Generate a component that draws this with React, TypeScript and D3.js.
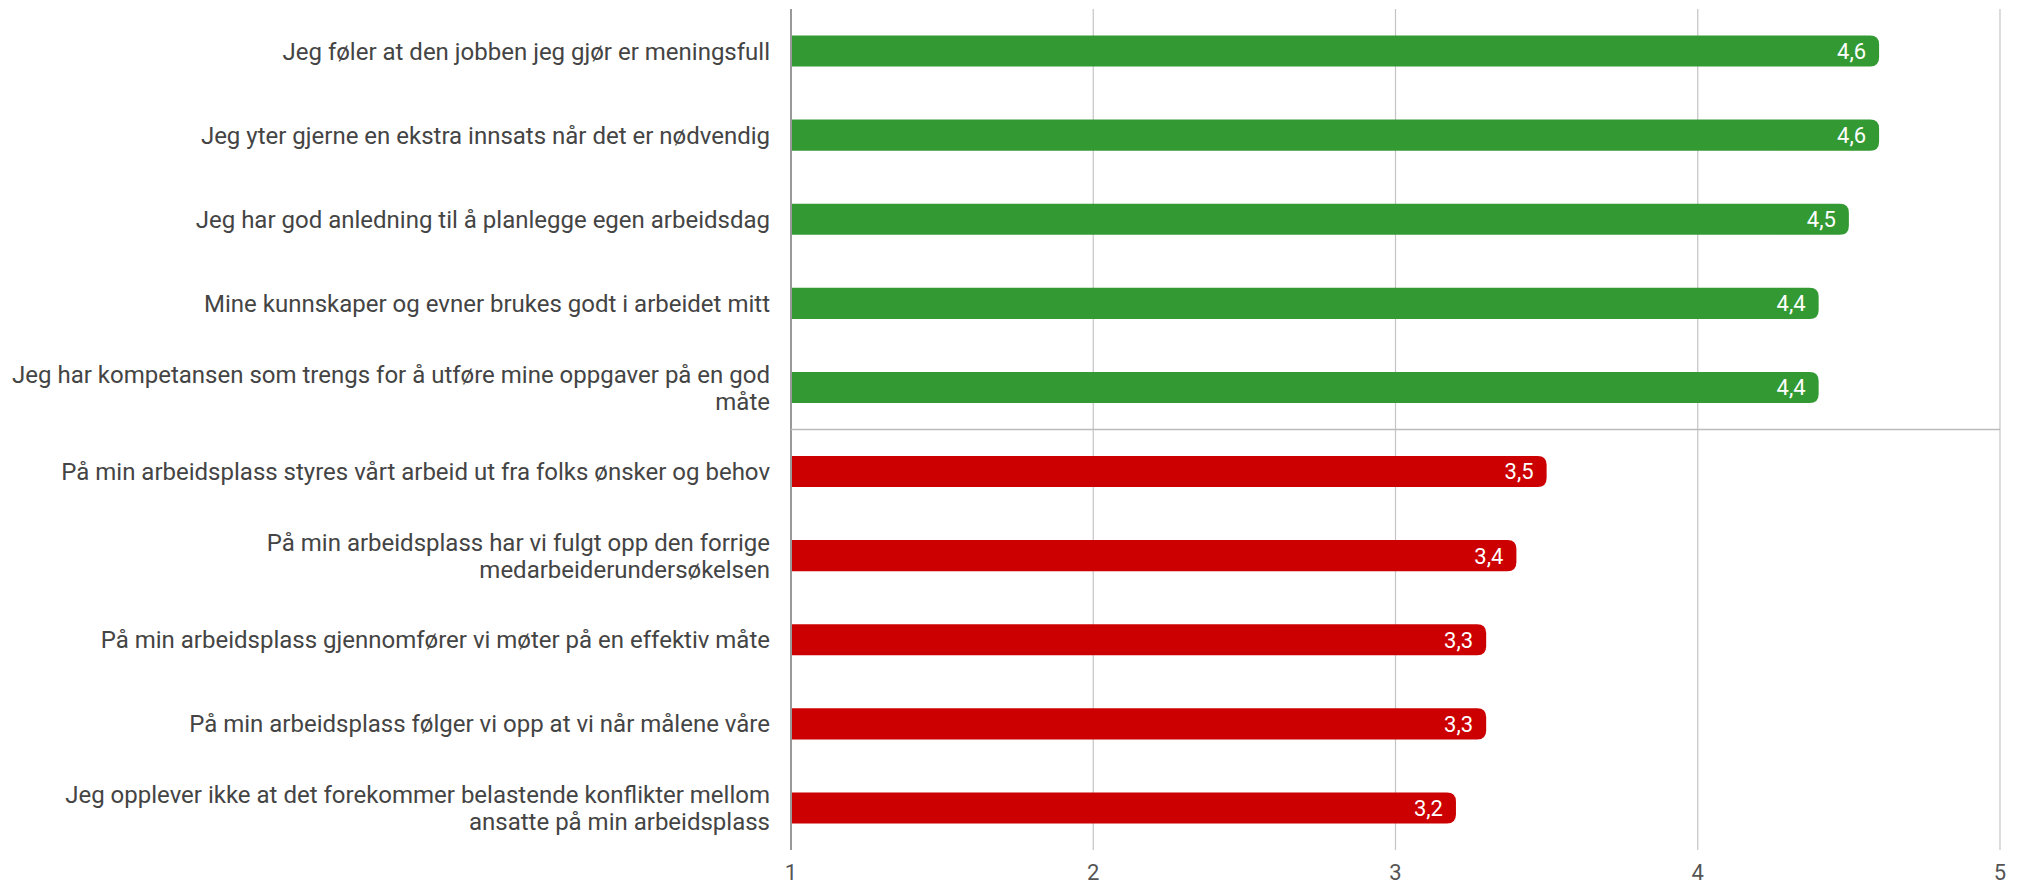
import * as d3 from 'd3'

// ─── Data ─────────────────────────────────────────────────────────────────────

const LABELS: string[][] = [
  ['Jeg føler at den jobben jeg gjør er meningsfull'],
  ['Jeg yter gjerne en ekstra innsats når det er nødvendig'],
  ['Jeg har god anledning til å planlegge egen arbeidsdag'],
  ['Mine kunnskaper og evner brukes godt i arbeidet mitt'],
  ['Jeg har kompetansen som trengs for å utføre mine oppgaver på en god', 'måte'],
  ['På min arbeidsplass styres vårt arbeid ut fra folks ønsker og behov'],
  ['På min arbeidsplass har vi fulgt opp den forrige', 'medarbeiderundersøkelsen'],
  ['På min arbeidsplass gjennomfører vi møter på en effektiv måte'],
  ['På min arbeidsplass følger vi opp at vi når målene våre'],
  ['Jeg opplever ikke at det forekommer belastende konflikter mellom', 'ansatte på min arbeidsplass'],
]
const VALUES = [4.6, 4.6, 4.5, 4.4, 4.4, 3.5, 3.4, 3.3, 3.3, 3.2]
const GROUP = ['top', 'top', 'top', 'top', 'top', 'bottom', 'bottom', 'bottom', 'bottom', 'bottom']
const X_TICKS = [1, 2, 3, 4, 5]

// ─── Constants ────────────────────────────────────────────────────────────────

const W = 2020
const H = 885
const MARGIN = { top: 9, right: 20, bottom: 35, left: 791 }
const COLORS: Record<string, string> = { top: '#339933', bottom: '#cc0000' }
const FONT = 'Roboto, "Noto Sans", sans-serif'

function roundedRight(x0: number, x1: number, y: number, h: number, r: number) {
  const rr = Math.min(r, (x1 - x0) / 2, h / 2)
  return `M${x0},${y}H${x1 - rr}Q${x1},${y} ${x1},${y + rr}V${y + h - rr}Q${x1},${y + h} ${x1 - rr},${y + h}H${x0}Z`
}

export default function App() {
  const innerW = W - MARGIN.left - MARGIN.right
  const innerH = H - MARGIN.top - MARGIN.bottom

  const x = d3.scaleLinear().domain([1, 5]).range([0, innerW])
  const y = d3.scaleBand<number>()
    .domain(VALUES.map((_, i) => i))
    .range([0, innerH])
    .paddingInner(0.63)
    .paddingOuter(0.315)

  const step = y.step()
  const sepY = step * 5

  return (
    <div style={{ position: 'fixed', left: 0, top: 0, width: W, height: H, background: '#fff' }}>
      <svg width={W} height={H} style={{ display: 'block', fontFamily: FONT }}>
        <g transform={`translate(${MARGIN.left},${MARGIN.top})`}>
          {/* gridlines */}
          {X_TICKS.map((t) => (
            <line key={t} x1={x(t)} x2={x(t)} y1={0} y2={innerH}
              stroke={t === 1 ? '#999' : '#c4c4c4'} strokeWidth={t === 1 ? 2 : 1.2} />
          ))}
          {/* group separator */}
          <line x1={0} x2={x(5)} y1={sepY} y2={sepY} stroke="#bbb" strokeWidth={1.5} />

          {/* bars */}
          {VALUES.map((v, i) => {
            const by = y(i) ?? 0
            const bh = y.bandwidth()
            return (
              <g key={i}>
                <path d={roundedRight(x(1) + 1, x(v), by, bh, 9)} fill={COLORS[GROUP[i]]} />
                <text x={x(v) - 13} y={by + bh / 2} dy="0.36em" textAnchor="end"
                  fill="#fff" fontSize={22}>{String(v).replace('.', ',')}</text>
              </g>
            )
          })}

          {/* category labels */}
          {LABELS.map((lines, i) => {
            const cy = (y(i) ?? 0) + y.bandwidth() / 2
            const lh = 27
            const y0 = cy - ((lines.length - 1) * lh) / 2
            return (
              <text key={i} x={-21} textAnchor="end" fill="#444" fontSize={24}>
                {lines.map((l, j) => (
                  <tspan key={j} x={-21} y={y0 + j * lh} dy="0.36em">{l}</tspan>
                ))}
              </text>
            )
          })}

          {/* x tick labels */}
          {X_TICKS.map((t) => (
            <text key={t} x={x(t)} y={innerH + 22} dy="0.36em" textAnchor="middle"
              fill="#555" fontSize={22}>{t}</text>
          ))}
        </g>
      </svg>
    </div>
  )
}
